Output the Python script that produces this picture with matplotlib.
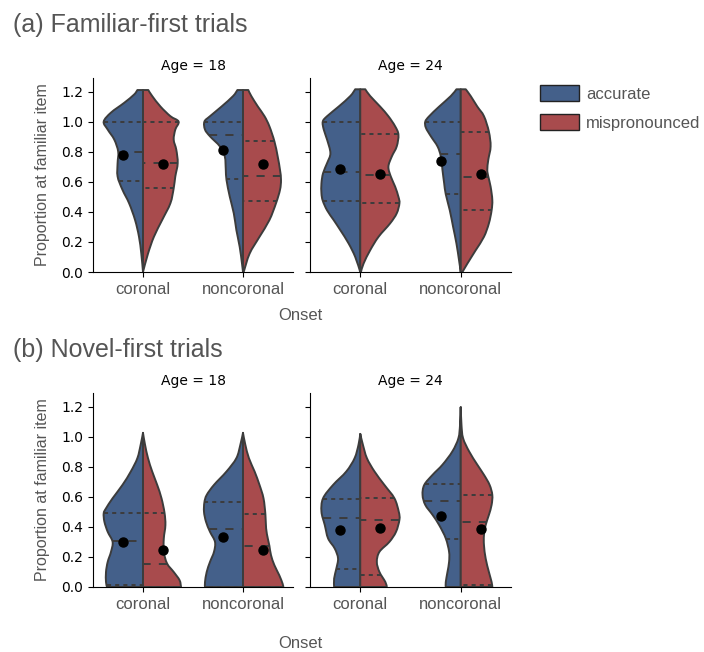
import numpy as np
import matplotlib
matplotlib.use("Agg")
import matplotlib.pyplot as plt
from matplotlib.patches import PathPatch, Patch
from matplotlib.path import Path

# ---------------- data ----------------
onsets = ["coronal", "noncoronal"]
ages = ["18", "24"]
conditions = ["accurate", "mispronounced"]
yticks = [0.0, 0.2, 0.4, 0.6, 0.8, 1.0, 1.2]
panel_titles = ["(a) Familiar-first trials", "(b) Novel-first trials"]

# violin half profiles: y (proportion) and half-width of density (category units)
# (a) Familiar-first, Age 18
fa18_cor_acc_y = [1.21, 1.18, 1.125, 1.06, 1.0, 0.947, 0.88, 0.80, 0.724, 0.635, 0.546, 0.457, 0.345, 0.234, 0.122, 0.0]
fa18_cor_acc_w = [0.056, 0.089, 0.188, 0.32, 0.393, 0.353, 0.287, 0.248, 0.254, 0.254, 0.205, 0.139, 0.079, 0.040, 0.017, 0.0]
fa18_cor_mis_y = [1.21, 1.17, 1.10, 1.036, 1.0, 0.947, 0.88, 0.813, 0.724, 0.635, 0.557, 0.457, 0.345, 0.234, 0.122, 0.0]
fa18_cor_mis_w = [0.053, 0.092, 0.175, 0.274, 0.356, 0.323, 0.307, 0.333, 0.347, 0.323, 0.307, 0.274, 0.191, 0.109, 0.05, 0.0]
fa18_non_acc_y = [1.21, 1.17, 1.10, 1.036, 1.0, 0.947, 0.902, 0.835, 0.768, 0.679, 0.612, 0.50, 0.39, 0.278, 0.167, 0.056, 0.0]
fa18_non_acc_w = [0.056, 0.099, 0.215, 0.33, 0.386, 0.38, 0.33, 0.231, 0.182, 0.172, 0.165, 0.132, 0.092, 0.066, 0.033, 0.01, 0.0]
fa18_non_mis_y = [1.21, 1.17, 1.10, 1.036, 0.969, 0.869, 0.768, 0.679, 0.612, 0.546, 0.457, 0.345, 0.234, 0.122, 0.0]
fa18_non_mis_w = [0.053, 0.083, 0.149, 0.215, 0.264, 0.314, 0.347, 0.37, 0.38, 0.37, 0.33, 0.264, 0.165, 0.066, 0.007]
# (a) Familiar-first, Age 24
fa24_cor_acc_y = [1.215, 1.17, 1.10, 1.036, 1.0, 0.947, 0.88, 0.79, 0.724, 0.657, 0.59, 0.523, 0.474, 0.41, 0.345, 0.278, 0.19, 0.10, 0.0]
fa24_cor_acc_w = [0.05, 0.099, 0.215, 0.33, 0.373, 0.363, 0.33, 0.297, 0.33, 0.37, 0.386, 0.386, 0.373, 0.33, 0.264, 0.198, 0.116, 0.05, 0.0]
fa24_cor_mis_y = [1.215, 1.17, 1.10, 1.036, 0.969, 0.913, 0.835, 0.768, 0.70, 0.635, 0.568, 0.50, 0.457, 0.39, 0.323, 0.234, 0.145, 0.056, 0.0]
fa24_cor_mis_w = [0.05, 0.099, 0.198, 0.28, 0.347, 0.38, 0.363, 0.314, 0.28, 0.304, 0.347, 0.38, 0.39, 0.363, 0.297, 0.182, 0.099, 0.033, 0.007]
fa24_non_acc_y = [1.215, 1.17, 1.10, 1.036, 1.0, 0.959, 0.902, 0.835, 0.768, 0.679, 0.59, 0.517, 0.41, 0.30, 0.19, 0.078, 0.0]
fa24_non_acc_w = [0.043, 0.099, 0.215, 0.314, 0.353, 0.347, 0.297, 0.231, 0.198, 0.182, 0.165, 0.149, 0.109, 0.076, 0.043, 0.017, 0.0]
fa24_non_mis_y = [1.215, 1.17, 1.10, 1.036, 0.933, 0.835, 0.746, 0.679, 0.635, 0.568, 0.479, 0.41, 0.323, 0.234, 0.145, 0.056, 0.0]
fa24_non_mis_w = [0.05, 0.099, 0.165, 0.231, 0.28, 0.297, 0.274, 0.264, 0.274, 0.297, 0.314, 0.307, 0.28, 0.231, 0.149, 0.066, 0.017]
# (b) Novel-first, Age 18
nv18_cor_acc_y = [1.025, 0.947, 0.857, 0.768, 0.679, 0.59, 0.523, 0.49, 0.434, 0.367, 0.30, 0.234, 0.167, 0.10, 0.033, 0.0]
nv18_cor_acc_w = [0.0, 0.023, 0.056, 0.122, 0.205, 0.304, 0.37, 0.393, 0.386, 0.353, 0.304, 0.32, 0.353, 0.37, 0.37, 0.36]
nv18_cor_mis_y = [1.025, 0.947, 0.857, 0.768, 0.679, 0.59, 0.494, 0.412, 0.323, 0.234, 0.156, 0.10, 0.045, 0.0]
nv18_cor_mis_w = [0.0, 0.02, 0.05, 0.092, 0.142, 0.185, 0.215, 0.224, 0.208, 0.208, 0.241, 0.307, 0.366, 0.38]
nv18_non_acc_y = [1.025, 0.947, 0.857, 0.768, 0.679, 0.612, 0.563, 0.50, 0.434, 0.367, 0.30, 0.234, 0.167, 0.10, 0.033, 0.0]
nv18_non_acc_w = [0.0, 0.026, 0.066, 0.165, 0.29, 0.363, 0.386, 0.39, 0.37, 0.33, 0.28, 0.29, 0.33, 0.363, 0.38, 0.38]
nv18_non_mis_y = [1.025, 0.947, 0.857, 0.768, 0.679, 0.59, 0.483, 0.39, 0.323, 0.274, 0.212, 0.145, 0.078, 0.022, 0.0]
nv18_non_mis_w = [0.0, 0.023, 0.059, 0.116, 0.165, 0.205, 0.224, 0.231, 0.248, 0.264, 0.28, 0.314, 0.363, 0.396, 0.403]
# (b) Novel-first, Age 24
nv24_cor_acc_y = [1.018, 0.947, 0.857, 0.768, 0.679, 0.59, 0.501, 0.412, 0.323, 0.256, 0.19, 0.122, 0.056, 0.0]
nv24_cor_acc_w = [0.0, 0.017, 0.056, 0.139, 0.27, 0.37, 0.386, 0.353, 0.32, 0.254, 0.221, 0.238, 0.26, 0.26]
nv24_cor_mis_y = [1.018, 0.947, 0.857, 0.768, 0.679, 0.59, 0.501, 0.448, 0.367, 0.30, 0.234, 0.167, 0.10, 0.033, 0.0]
nv24_cor_mis_w = [0.0, 0.026, 0.066, 0.142, 0.24, 0.34, 0.383, 0.39, 0.356, 0.29, 0.191, 0.165, 0.191, 0.25, 0.264]
nv24_non_acc_y = [1.196, 1.08, 0.99, 0.902, 0.813, 0.746, 0.679, 0.612, 0.546, 0.479, 0.412, 0.323, 0.234, 0.167, 0.10, 0.033, 0.0]
nv24_non_acc_w = [0.0, 0.007, 0.023, 0.083, 0.182, 0.28, 0.363, 0.38, 0.353, 0.28, 0.215, 0.149, 0.116, 0.116, 0.132, 0.149, 0.149]
nv24_non_mis_y = [1.196, 1.08, 0.99, 0.902, 0.813, 0.746, 0.679, 0.612, 0.546, 0.479, 0.412, 0.345, 0.278, 0.189, 0.10, 0.033, 0.0]
nv24_non_mis_w = [0.0, 0.007, 0.023, 0.083, 0.165, 0.231, 0.287, 0.314, 0.307, 0.28, 0.248, 0.231, 0.231, 0.248, 0.28, 0.307, 0.314]

# quartiles [Q1, median, Q3]
fa18_cor_acc_q = [0.606, 0.80, 1.0]
fa18_cor_mis_q = [0.559, 0.724, 1.0]
fa18_non_acc_q = [0.621, 0.913, 1.0]
fa18_non_mis_q = [0.474, 0.641, 0.869]
fa24_cor_acc_q = [0.474, 0.664, 1.0]
fa24_cor_mis_q = [0.457, 0.646, 0.918]
fa24_non_acc_q = [0.517, 0.786, 1.0]
fa24_non_mis_q = [0.41, 0.63, 0.933]
nv18_cor_acc_q = [0.016, 0.303, 0.49]
nv18_cor_mis_q = [0.0, 0.154, 0.494]
nv18_non_acc_q = [0.0, 0.388, 0.563]
nv18_non_mis_q = [0.0, 0.274, 0.483]
nv24_cor_acc_q = [0.122, 0.461, 0.586]
nv24_cor_mis_q = [0.078, 0.448, 0.592]
nv24_non_acc_q = [0.321, 0.575, 0.684]
nv24_non_mis_q = [0.01, 0.434, 0.612]

# means (black dots) per onset: [coronal, noncoronal]
fa18_mean_acc = [0.78, 0.813]
fa18_mean_mis = [0.72, 0.717]
fa24_mean_acc = [0.684, 0.737]
fa24_mean_mis = [0.653, 0.653]
nv18_mean_acc = [0.30, 0.332]
nv18_mean_mis = [0.243, 0.243]
nv24_mean_acc = [0.376, 0.474]
nv24_mean_mis = [0.39, 0.385]

# ---------------- lookup built from the arrays ----------------
g = globals()
def prof(key):
    return g[key + "_y"], g[key + "_w"], g[key + "_q"]

# ---------------- style ----------------
W, H = 704, 652
BLUE = "#44608a"
RED = "#a84b4d"
LINE = "#3c3c3c"
GRAY_TXT = "#555555"
SANS = "Liberation Sans"
LW = 1.4

fig = plt.figure(figsize=(W / 100, H / 100), dpi=100)

def rect(x0, x1, ytop, ybot):
    return [x0 / W, 1 - ybot / H, (x1 - x0) / W, (ybot - ytop) / H]

rows = [("fa", 78, 272), ("nv", 393, 587)]
cols = [(93, 293), (310, 511)]

def smooth_outline(pts):
    """Catmull-Rom curve through the profile points, as Bezier path pieces."""
    pts = np.asarray(pts, float)
    n = len(pts)
    verts = [tuple(pts[0])]
    codes = [Path.MOVETO]
    for i in range(n - 1):
        p0 = pts[max(i - 1, 0)]
        p1 = pts[i]
        p2 = pts[i + 1]
        p3 = pts[min(i + 2, n - 1)]
        c1 = p1 + (p2 - p0) / 6.0
        c2 = p2 - (p3 - p1) / 6.0
        verts += [tuple(c1), tuple(c2), tuple(p2)]
        codes += [Path.CURVE4] * 3
    return verts, codes

def draw_half(ax, pos, side, ys, ws, qs, color):
    ys = np.asarray(ys, float)
    ws = np.asarray(ws, float)
    xs = pos + side * ws
    verts, codes = smooth_outline(np.column_stack([xs, ys]))
    verts += [(pos, ys[-1]), (pos, ys[0]), (pos, ys[0])]
    codes += [Path.LINETO, Path.LINETO, Path.CLOSEPOLY]
    ax.add_patch(PathPatch(Path(verts, codes), facecolor=color, edgecolor=LINE,
                           linewidth=LW, joinstyle="round", zorder=2))
    for i, q in enumerate(qs):
        w = np.interp(q, ys[::-1], ws[::-1])
        d = (4.2, 4.2) if i == 1 else (2.1, 2.1)
        ax.plot([pos + side * w, pos], [q, q], color=LINE, lw=LW,
                dashes=d, zorder=3, dash_capstyle="butt")

for r, (prefix, yt, yb) in enumerate(rows):
    for c, (x0, x1) in enumerate(cols):
        ax = fig.add_axes(rect(x0, x1, yt, yb))
        age = ages[c]
        for i, on in enumerate(onsets):
            short = "cor" if on == "coronal" else "non"
            for side, cond, col in [(-1, "acc", BLUE), (1, "mis", RED)]:
                ys, ws, qs = prof(f"{prefix}{age}_{short}_{cond}")
                draw_half(ax, i, side, ys, ws, qs, col)
            m_acc = g[f"{prefix}{age}_mean_acc"][i]
            m_mis = g[f"{prefix}{age}_mean_mis"][i]
            ax.plot([i - 0.2], [m_acc], "o", color="black", ms=6.5, zorder=5)
            ax.plot([i + 0.2], [m_mis], "o", color="black", ms=6.5, zorder=5)
        ax.set_xlim(-0.5, 1.5)
        ax.set_ylim(0, 1.29)
        ax.set_xticks(range(len(onsets)))
        ax.set_xticklabels(onsets, fontsize=12, color=GRAY_TXT, family=SANS)
        ax.set_yticks(yticks)
        if c == 0:
            ax.set_yticklabels([f"{v:.1f}" for v in yticks], fontsize=10)
        else:
            ax.set_yticklabels([])
        for s in ["top", "right"]:
            ax.spines[s].set_visible(False)
        ax.set_title(f"Age = {age}", fontsize=10)

# texts
fig.text(13 / W, 1 - 25 / H, panel_titles[0], fontsize=18, color=GRAY_TXT,
         family=SANS, ha="left", va="center")
fig.text(13 / W, 1 - 350 / H, panel_titles[1], fontsize=18, color=GRAY_TXT,
         family=SANS, ha="left", va="center")
for yc in (175, 490):
    fig.text(43 / W, 1 - yc / H, "Proportion at familiar item", rotation=90,
             fontsize=11.5, color=GRAY_TXT, family=SANS, ha="center", va="center")
fig.text(300 / W, 1 - 315 / H, "Onset", fontsize=12, color=GRAY_TXT,
         family=SANS, ha="center", va="center")
fig.text(300 / W, 1 - 644 / H, "Onset", fontsize=12, color=GRAY_TXT,
         family=SANS, ha="center", va="center")

handles = [Patch(facecolor=BLUE, edgecolor="#222222", linewidth=1.0),
           Patch(facecolor=RED, edgecolor="#222222", linewidth=1.0)]
leg = fig.legend(handles, conditions, loc="upper left",
                 bbox_to_anchor=(540 / W, 1 - 85 / H), frameon=False,
                 borderpad=0, borderaxespad=0, handlelength=2.35, handleheight=1.1,
                 handletextpad=0.42, labelspacing=0.75,
                 prop={"family": SANS, "size": 12})
for t in leg.get_texts():
    t.set_color(GRAY_TXT)

fig.savefig("out.png", dpi=100)
